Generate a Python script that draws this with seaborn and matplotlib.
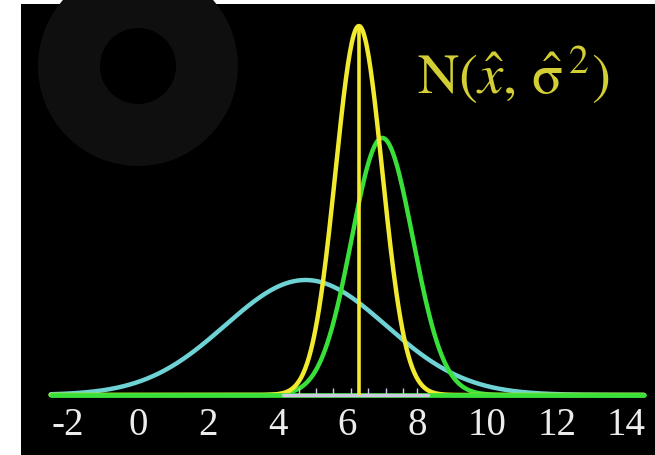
import numpy as np
import pandas as pd
import matplotlib
matplotlib.use("Agg")
import matplotlib.pyplot as plt
import seaborn as sns
from matplotlib.patches import Rectangle, Wedge

# ---- data ----
series = ["prior", "measurement", "estimate"]
means = [4.8, 7.0, 6.33]
sigmas = [2.3, 0.88, 0.67]
peaks = [0.187, 0.418, 0.600]
colors = ["#6fd3d6", "#3ae03a", "#f2ea2e"]
x_ticks = [-2, 0, 2, 4, 6, 8, 10, 12, 14]
tick_labels = ["-2", "0", "2", "4", "6", "8", "10", "12", "14"]
x_span = [-2.5, 14.5]
rug = [4.6, 5.1, 5.6, 6.1, 6.6, 7.1, 7.6, 8.0]
title_text = r"$\mathrm{N}(\hat{x},\,\hat{\mathrm{\sigma}}^{\,2})$"

# ---- build table ----
grid = np.linspace(x_span[0], x_span[1], 600)
rows = []
for name, m, s, p in zip(series, means, sigmas, peaks):
    for xv in grid:
        rows.append((name, xv, p * np.exp(-0.5 * ((xv - m) / s) ** 2)))
df = pd.DataFrame(rows, columns=["series", "x", "y"])

sns.set_theme(style="white")
plt.rcParams["mathtext.fontset"] = "stix"

W, H = 655, 455
fig = plt.figure(figsize=(W / 100, H / 100), dpi=100, facecolor="black")
# white frame strips (left and top)
fig.patches.append(Rectangle((0, 0), 21 / W, 1, transform=fig.transFigure,
                             facecolor="white", edgecolor="none", zorder=0))
fig.patches.append(Rectangle((0, 1 - 4 / H), 1, 4 / H, transform=fig.transFigure,
                             facecolor="white", edgecolor="none", zorder=0))
# faint background ornament (gear ring)
fig.patches.append(Wedge((1.38, (H - 66) / 100), 1.0, 0, 360, width=0.62,
                         transform=fig.dpi_scale_trans, facecolor="#0f0f0f",
                         edgecolor="none", zorder=0.5))

left_px, right_px = 21, 655
top_px, bot_px = 4, 404
ax = fig.add_axes([left_px / W, 1 - bot_px / H, (right_px - left_px) / W,
                   (bot_px - top_px) / H])
ax.set_facecolor("none")

px_per_unit = 34.9
x0_px = 138
ax.set_xlim((left_px - x0_px) / px_per_unit, (right_px - x0_px) / px_per_unit)
ypx = 615.0
base_px = 395
ax.set_ylim(-(bot_px - base_px) / ypx, (base_px - top_px) / ypx)

order = ["prior", "measurement", "estimate"]
sns.lineplot(data=df, x="x", y="y", hue="series", hue_order=order,
             palette=dict(zip(series, colors)), lw=3.2, legend=False, ax=ax,
             sort=False, estimator=None)
# green tails along the baseline, over the curve feet
ax.plot(x_span, [0, 0], color=colors[1], lw=3.4, zorder=3)
# baseline rug segment
ax.plot([4.15, 8.3], [0, 0], color="#cfc8e4", lw=2.4, zorder=3.5)
ax.plot(rug, [0.006] * len(rug), ls="none", marker="|", ms=4, color="#cfc8e4", zorder=3.5)
ax.vlines(means[2], 0, peaks[2], color=colors[2], lw=2.6, zorder=5)

ax.set_xticks(x_ticks)
ax.set_xticklabels(tick_labels, fontfamily="Liberation Serif", fontsize=28,
                   color="#ececec")
ax.tick_params(axis="x", length=0, pad=2)
ax.set_yticks([])
ax.set_xlabel("")
ax.set_ylabel("")
for sp in ax.spines.values():
    sp.set_visible(False)

fig.text(513 / W, 1 - 75 / H, title_text, color="#d2ce34", fontsize=41,
         ha="center", va="center")

fig.savefig("out.png", dpi=100, facecolor="black")
